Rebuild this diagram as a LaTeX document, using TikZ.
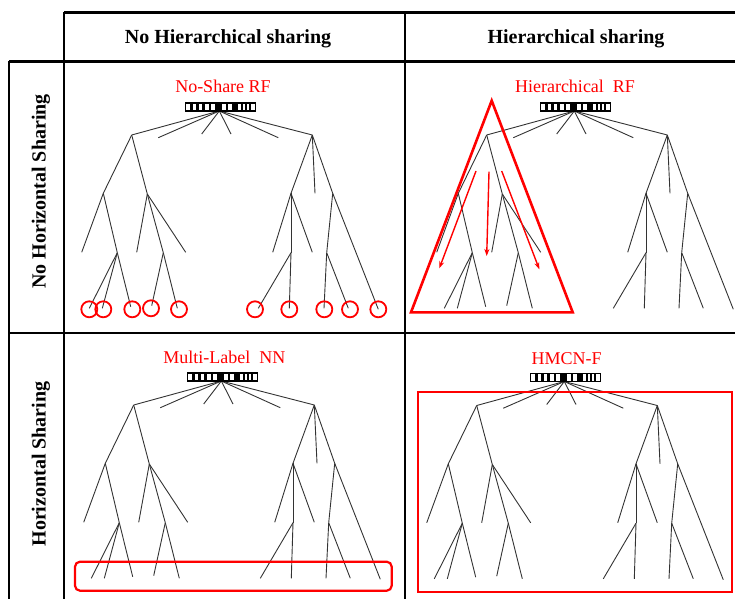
\documentclass[tikz,border=0pt]{standalone}
\usepackage{fontspec}
\setmainfont{Liberation Serif}
\usetikzlibrary{arrows.meta}
\newcommand\hmtree[1]{%
 \coordinate (#1r) at (219.3,111);
 \coordinate (#1L) at (131.7,135);
 \coordinate (#1R) at (312.3,135);
 \coordinate (#1l1) at (158.3,137.7);
 \coordinate (#1l2) at (201.7,134);
 \coordinate (#1l3) at (231,134);
 \coordinate (#1l4) at (278.3,137.7);
 \coordinate (#1A) at (103.3,193.3);
 \coordinate (#1B) at (147.3,194);
 \coordinate (#1C) at (291,193.3);
 \coordinate (#1Rl) at (315,193.3);
 \coordinate (#1D) at (332.7,193.3);
 \coordinate (#1Al) at (81.7,252.3);
 \coordinate (#1A2) at (117.3,252.7);
 \coordinate (#1Bl1) at (136.7,252.3);
 \coordinate (#1B2) at (163.3,252.7);
 \coordinate (#1Bl2) at (185.7,252.3);
 \coordinate (#1Cl1) at (272.7,252.3);
 \coordinate (#1C2) at (291,252.7);
 \coordinate (#1Cl2) at (312.3,252.3);
 \coordinate (#1D2) at (326.7,252.7);
 \coordinate (#1Dl) at (378.3,309.3);
 \coordinate (#1a1) at (89.3,308.3);
 \coordinate (#1a2) at (102.3,308.3);
 \coordinate (#1a3) at (130.7,306.7);
 \coordinate (#1b1) at (151.7,305.7);
 \coordinate (#1b2) at (177.3,308.3);
 \coordinate (#1c1) at (258.3,308.3);
 \coordinate (#1c2) at (289.3,308.3);
 \coordinate (#1d1) at (324,308.3);
 \coordinate (#1d2) at (348.3,308.3);
 \foreach \u/\v in {r/L,r/l1,r/l2,r/l3,r/l4,r/R,L/A,L/B,A/Al,A/A2,A2/a1,A2/a2,A2/a3,
   B/Bl1,B/B2,B/Bl2,B2/b1,B2/b2,R/C,R/Rl,R/D,C/Cl1,C/C2,C/Cl2,C2/c1,C2/c2,D/D2,D/Dl,D2/d1,D2/d2}
   {\draw[edge] (#1\u) -- (#1\v);}
 \draw[barbox] (185.7,103) rectangle (255.3,111);
 \foreach \a/\b in {4.5/7.5,10.5/13,16/19,23/25.5,29.5/36,40/42.5,46/52,55/57,59/61,63/65}
   {\fill (185.7+\a,103) rectangle (185.7+\b,111);}
}
\begin{document}
\begin{tikzpicture}[x=1pt,y=-1pt,
  edge/.style={draw=black!80,line width=0.9pt},
  barbox/.style={draw=black,fill=white,line width=1.3pt},
  grid/.style={draw=black,line width=2.2pt},
  hdr/.style={font=\fontsize{20}{24}\selectfont\bfseries,inner sep=0pt},
  lbl/.style={font=\fontsize{18}{22}\selectfont,text=red,inner sep=0pt},
  circ/.style={circle,draw=red,line width=1.8pt,minimum size=16pt,inner sep=0pt},
  redthick/.style={draw=red,line width=2.6pt},
  redbox/.style={draw=red,line width=2.2pt},
  redarrow/.style={draw=red,line width=1.4pt,-{Stealth[length=7pt,width=5pt]}}]
\useasboundingbox (0,0) rectangle (735,599);
% table
\draw[grid] (64,12.5) -- (735,12.5);
\draw[grid] (9,61.5) -- (735,61.5);
\draw[grid] (9,332.7) -- (735,332.7);
\draw[grid] (64,12.5) -- (64,599);
\draw[grid] (405,12.5) -- (405,599);
\draw[grid] (9,61.5) -- (9,599);
\node[hdr,anchor=base] (h1) at (228,43.5) {No Hierarchical sharing};
\node[hdr,anchor=base] (h2) at (576,43.5) {Hierarchical sharing};
\node[hdr,rotate=90,anchor=base] (v1) at (45.5,191.5) {No Horizontal Sharing};
\node[hdr,rotate=90,anchor=base] (v2) at (45.5,464) {Horizontal Sharing};
% panels
\begin{scope}\hmtree{a}\end{scope}
\begin{scope}[shift={(355,0)}]\hmtree{b}\end{scope}
\begin{scope}[shift={(2,270)}]\hmtree{c}\end{scope}
\begin{scope}[shift={(345,270.5)}]\hmtree{d}\end{scope}
\node[lbl,anchor=base] (t1) at (223,92.5) {No-Share RF};
\node[lbl,anchor=base] (t2) at (575,92.5) {Hierarchical\ \ RF};
\node[lbl,anchor=base] (t3) at (224.3,363.5) {Multi-Label\ \ NN};
\node[lbl,anchor=base] (t4) at (566.7,364.3) {HMCN-F};
% panel 1 circles
\foreach \x/\y [count=\i] in {89.3/309.3,103.3/309.3,132.3/309.3,151/308.3,179/309.3,255/309.3,289.3/309.3,324.3/309.3,350/309.3,378.3/309.3}
  {\node[circ] (o\i) at (\x,\y) {};}
% panel 2 triangle and arrows
\draw[redthick] (491.7,100.7) -- (411,312.3) -- (572.7,312.3) -- cycle;
\coordinate (s1) at (476,171); \coordinate (e1) at (439.3,268.3);
\coordinate (s2) at (489,171.7); \coordinate (e2) at (486.7,256);
\coordinate (s3) at (501.7,171); \coordinate (e3) at (539.3,269.3);
\draw[redarrow] (s1) -- (e1);
\draw[redarrow] (s2) -- (e2);
\draw[redarrow] (s3) -- (e3);
% panel 3 and 4 boxes
\draw[redbox,rounded corners=5pt] (75,561.7) rectangle (391.7,590.7);
\draw[redbox] (418.3,392.3) rectangle (731.7,592.3);
\end{tikzpicture}
\end{document}
